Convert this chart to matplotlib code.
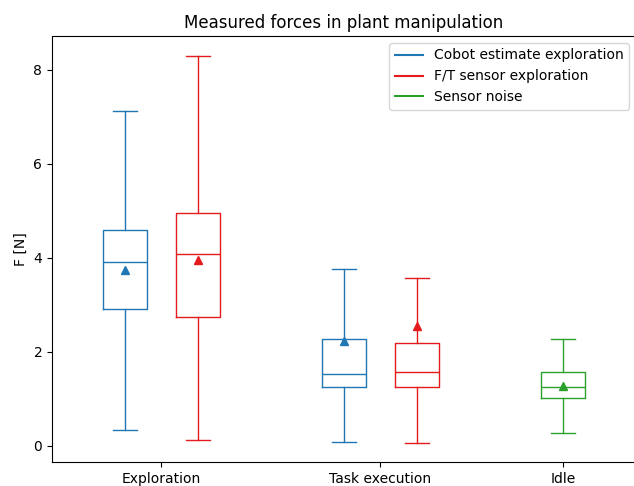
import matplotlib
matplotlib.use("Agg")
import matplotlib.pyplot as plt
from matplotlib.lines import Line2D

# Data
series = ["Cobot estimate exploration", "F/T sensor exploration", "Cobot estimate exploration",
          "F/T sensor exploration", "Sensor noise"]
whislo = [0.33, 0.12, 0.09, 0.05, 0.27]
q1     = [2.91, 2.75, 1.26, 1.26, 1.01]
med    = [3.91, 4.07, 1.53, 1.57, 1.26]
q3     = [4.59, 4.96, 2.27, 2.18, 1.56]
whishi = [7.13, 8.30, 3.76, 3.56, 2.27]
means  = [3.73, 3.96, 2.23, 2.55, 1.28]
positions = [1, 2, 4, 5, 7]
colors = ["#1f77b4", "#e41a1c", "#1f77b4", "#e41a1c", "#2ca02c"]
tick_pos = [1.5, 4.5, 7]
tick_labels = ["Exploration", "Task execution", "Idle"]
legend_labels = ["Cobot estimate exploration", "F/T sensor exploration", "Sensor noise"]
legend_colors = ["#1f77b4", "#e41a1c", "#2ca02c"]

fig = plt.figure(figsize=(6.34, 4.86), dpi=100)
ax = fig.add_axes([0.082, 0.049, 0.921, 0.877])

for i in range(len(positions)):
    st = [dict(whislo=whislo[i], q1=q1[i], med=med[i], q3=q3[i], whishi=whishi[i],
               mean=means[i], fliers=[])]
    c = colors[i]
    ax.bxp(st, positions=[positions[i]], widths=0.6, capwidths=0.33, showmeans=True,
           manage_ticks=False,
           boxprops=dict(color=c, linewidth=1.0),
           medianprops=dict(color=c, linewidth=1.0),
           whiskerprops=dict(color=c, linewidth=1.0),
           capprops=dict(color=c, linewidth=1.0),
           meanprops=dict(marker="^", markerfacecolor=c, markeredgecolor=c, markersize=6))

ax.set_xlim(0, 8)
ax.set_ylim(-0.35, 8.72)
ax.set_xticks(tick_pos)
ax.set_xticklabels(tick_labels)
ax.set_yticks([0, 2, 4, 6, 8])
ax.set_ylabel("F [N]")
ax.set_title("Measured forces in plant manipulation")

handles = [Line2D([0], [0], color=c, lw=1.5) for c in legend_colors]
ax.legend(handles, legend_labels, loc="upper right")

fig.savefig("out.png", dpi=100)
